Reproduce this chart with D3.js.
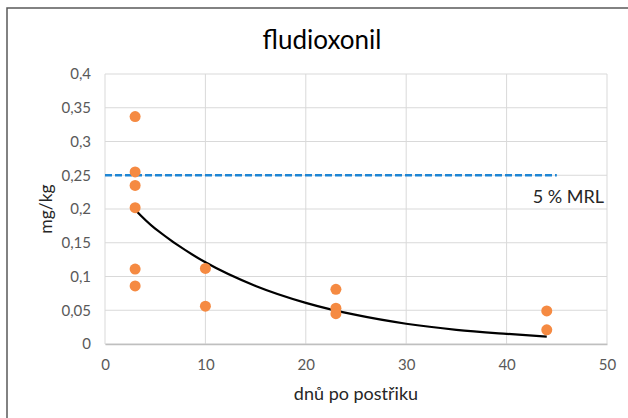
<!DOCTYPE html>
<html>
<head>
<meta charset="utf-8">
<script src="https://cdn.jsdelivr.net/npm/d3@7"></script>
<style>
  body { margin: 0; background: #fff; }
  text { font-family: Lato, "Liberation Sans", sans-serif; }
</style>
</head>
<body>
<script>
const width = 628;
const height = 418;
const margin = { top: 74, right: 21, bottom: 74, left: 105 };

// samples: days after spraying, residue mg/kg
const days = [3, 3, 3, 3, 3, 3, 10, 10, 23, 23, 23, 44, 44];
const residues = [0.337, 0.255, 0.235, 0.202, 0.111, 0.086, 0.112, 0.056, 0.081, 0.053, 0.045, 0.049, 0.021];

// trend curve
const trendDays = [3, 5, 10, 15, 20, 25, 30, 35, 40, 44];
const trendValues = [0.199, 0.171, 0.121, 0.086, 0.061, 0.043, 0.03, 0.021, 0.015, 0.011];

// 5 % MRL line
const mrlValue = 0.25;
const mrlRange = [0, 45];

const xTicks = [0, 10, 20, 30, 40, 50];
const yTicks = [0, 0.05, 0.1, 0.15, 0.2, 0.25, 0.3, 0.35, 0.4];

const x = d3.scaleLinear()
  .domain([0, 50])
  .range([margin.left, width - margin.right]);

const y = d3.scaleLinear()
  .domain([0, 0.4])
  .range([height - margin.bottom, margin.top]);

const fmt = v => String(v).replace('.', ',');

const svg = d3.select('body').append('svg')
  .attr('width', width)
  .attr('height', height);

// chart frame
svg.append('rect')
  .attr('x', 7).attr('y', 8)
  .attr('width', width).attr('height', height)
  .attr('fill', 'none')
  .attr('stroke', '#595959')
  .attr('stroke-width', 1.5);

// gridlines
svg.append('g')
  .selectAll('line')
  .data(yTicks)
  .join('line')
    .attr('x1', x(0)).attr('x2', x(50))
    .attr('y1', d => y(d)).attr('y2', d => y(d))
    .attr('stroke', '#d9d9d9');

svg.append('g')
  .selectAll('line')
  .data(xTicks)
  .join('line')
    .attr('x1', d => x(d)).attr('x2', d => x(d))
    .attr('y1', y(0)).attr('y2', y(0.4))
    .attr('stroke', '#d9d9d9');

// axes
const xAxis = svg.append('g')
  .attr('transform', `translate(0, ${y(0)})`)
  .call(d3.axisBottom(x).tickValues(xTicks).tickSize(0).tickPadding(15).tickFormat(fmt));
xAxis.select('.domain').attr('stroke', '#bfbfbf').attr('stroke-width', 1.5);
xAxis.selectAll('text').attr('fill', '#595959').attr('font-size', '15px')
  .style('font-family', 'Lato, sans-serif');

const yAxis = svg.append('g')
  .attr('transform', `translate(${x(0)}, 0)`)
  .call(d3.axisLeft(y).tickValues(yTicks).tickSize(0).tickPadding(14).tickFormat(fmt));
yAxis.select('.domain').remove();
yAxis.selectAll('text').attr('fill', '#595959').attr('font-size', '15px')
  .style('font-family', 'Lato, sans-serif');

// axis titles
svg.append('text')
  .attr('x', x(25))
  .attr('y', 400)
  .attr('text-anchor', 'middle')
  .attr('fill', '#262626')
  .attr('font-size', '18px')
  .text('dnů po postřiku');

svg.append('text')
  .attr('transform', `translate(52, ${y(0.2)}) rotate(-90)`)
  .attr('text-anchor', 'middle')
  .attr('fill', '#262626')
  .attr('font-size', '17.5px')
  .text('mg/kg');

// title
svg.append('text')
  .attr('x', 322)
  .attr('y', 49)
  .attr('text-anchor', 'middle')
  .attr('fill', '#000')
  .attr('font-size', '26px')
  .text('fludioxonil');

// MRL line
svg.append('line')
  .attr('x1', x(mrlRange[0])).attr('x2', x(mrlRange[1]))
  .attr('y1', y(mrlValue)).attr('y2', y(mrlValue))
  .attr('stroke', '#1f86d4')
  .attr('stroke-width', 2.5)
  .attr('stroke-dasharray', '7,3');

svg.append('text')
  .attr('x', 604)
  .attr('y', 203)
  .attr('text-anchor', 'end')
  .attr('fill', '#262626')
  .attr('font-size', '18px')
  .text('5 % MRL');

// trend curve
const trend = trendDays.map((d, i) => [d, trendValues[i]]);
svg.append('path')
  .datum(trend)
  .attr('fill', 'none')
  .attr('stroke', '#000')
  .attr('stroke-width', 2.25)
  .attr('d', d3.line().x(d => x(d[0])).y(d => y(d[1])).curve(d3.curveCatmullRom.alpha(0.5)));

// points
svg.append('g')
  .selectAll('circle')
  .data(days.map((d, i) => ({ day: d, value: residues[i] })))
  .join('circle')
    .attr('cx', d => x(d.day))
    .attr('cy', d => y(d.value))
    .attr('r', 5.5)
    .attr('fill', '#f58a42');
</script>
</body>
</html>
